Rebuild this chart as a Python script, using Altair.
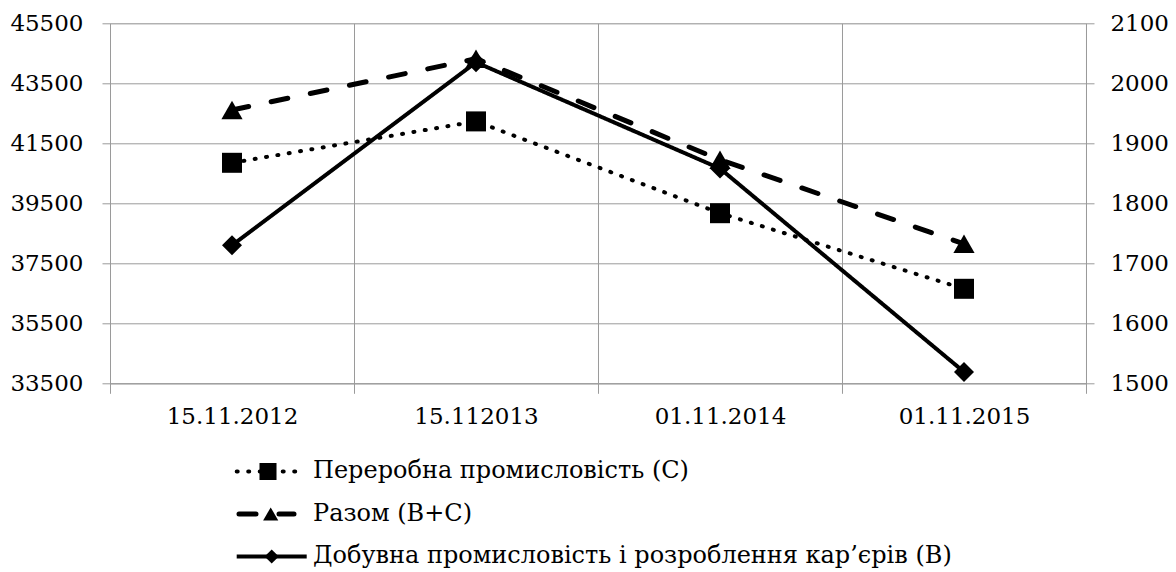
import altair as alt
import pandas as pd

# ---- data ----
dates = ["15.11.2012", "15.112013", "01.11.2014", "01.11.2015"]
manufacturing_c = [40850, 42230, 39170, 36650]   # left axis
total_bc = [42610, 44320, 40950, 38150]          # left axis
mining_b = [1730, 2035, 1858, 1519]              # right axis

labels = [
    "Переробна промисловість (С)",
    "Разом (В+С)",
    "Добувна промисловість і розроблення кар’єрів (В)",
]
left_ticks = [33500, 35500, 37500, 39500, 41500, 43500, 45500]
right_ticks = [1500, 1600, 1700, 1800, 1900, 2000, 2100]

FONT = "DejaVu Serif"
GRID = "#9a9a9a"
FS = 23
LFS = 24

# ---- styles ----
styles = {
    labels[0]: dict(dash=[1, 10.5], cap="round", width=4, shape="square", size=400, lsize=290),
    labels[1]: dict(dash=[17, 23], cap="round", width=5, shape="triangle-up", size=450, lsize=230),
    labels[2]: dict(dash=[1, 0], cap="butt", width=4, shape="diamond", size=400, lsize=200),
}

X = alt.X(
    "date:N",
    sort=dates,
    bandPosition=0.5,
    scale=alt.Scale(type="band", domain=dates, paddingInner=0, paddingOuter=0),
    axis=alt.Axis(
        title=None, tickBand="extent", labelAngle=0, grid=True, gridColor=GRID,
        domainColor=GRID, tickColor=GRID, tickSize=10, labelPadding=12,
        labelFont=FONT, labelFontSize=FS, labelColor="black",
    ),
)

YL = alt.Y(
    "value:Q",
    scale=alt.Scale(domain=[33500, 45500], nice=False, zero=False),
    axis=alt.Axis(
        orient="left", values=left_ticks, title=None, grid=True, gridColor=GRID,
        domainColor=GRID, tickColor=GRID, tickSize=8, labelPadding=19, format="d",
        labelFont=FONT, labelFontSize=FS, labelColor="black",
    ),
)

YR = alt.Y(
    "value:Q",
    scale=alt.Scale(domain=[1500, 2100], nice=False, zero=False),
    axis=alt.Axis(
        orient="right", values=right_ticks, title=None, grid=False,
        domainColor=GRID, tickColor=GRID, tickSize=8, labelPadding=16, format="d",
        labelFont=FONT, labelFontSize=FS, labelColor="black",
    ),
)


def series_layers(values, label, y):
    st = styles[label]
    df = pd.DataFrame({"date": dates, "value": values})
    line = alt.Chart(df).mark_line(
        color="black", strokeWidth=st["width"], strokeDash=st["dash"], strokeCap=st["cap"]
    ).encode(x=X, y=y)
    pts = alt.Chart(df).mark_point(
        shape=st["shape"], filled=True, size=st["size"], color="black", opacity=1
    ).encode(x=X, y=y)
    return [line, pts]


left = alt.layer(
    *series_layers(manufacturing_c, labels[0], YL),
    *series_layers(total_bc, labels[1], YL),
)
right = alt.layer(*series_layers(mining_b, labels[2], YR))

# ---- legend (below the axis) ----
YLEG = alt.Y(
    "label:N",
    scale=alt.Scale(type="point", domain=labels, range=[448.2, 533.2], padding=0),
    axis=None,
)
leg_x = {
    labels[0]: (126.7, 191.7, 158.0),
    labels[1]: (129.0, 184.0, 160.7),
    labels[2]: (126.7, 196.7, 161.7),
}
leg_layers = []
for lab in labels:
    st = styles[lab]
    d = pd.DataFrame({"label": [lab]})
    x0, x1, xm = leg_x[lab]
    leg_layers.append(
        alt.Chart(d).mark_rule(
            color="black", strokeWidth=st["width"], strokeDash=st["dash"], strokeCap=st["cap"]
        ).encode(x=alt.value(x0), x2=alt.value(x1), y=YLEG)
    )
    leg_layers.append(
        alt.Chart(d).mark_point(
            shape=st["shape"], filled=True, size=st["lsize"], color="black", opacity=1
        ).encode(x=alt.value(xm), y=YLEG)
    )
legtext = alt.Chart(pd.DataFrame({"label": labels})).mark_text(
    align="left", baseline="middle", font=FONT, fontSize=LFS, color="black"
).encode(x=alt.value(203), y=YLEG, text="label:N")
legend = alt.layer(*leg_layers, legtext)

chart = (
    alt.layer(left, right, legend)
    .resolve_scale(y="independent")
    .properties(
        width=976,
        height=360,
        autosize=alt.AutoSizeParams(type="none"),
        padding={"left": 102, "top": 15.3, "right": 82, "bottom": 186},
    )
    .configure_view(stroke=None)
    .configure(background="white")
)

chart.save("out.html", embed_options={"renderer": "svg", "actions": False})
